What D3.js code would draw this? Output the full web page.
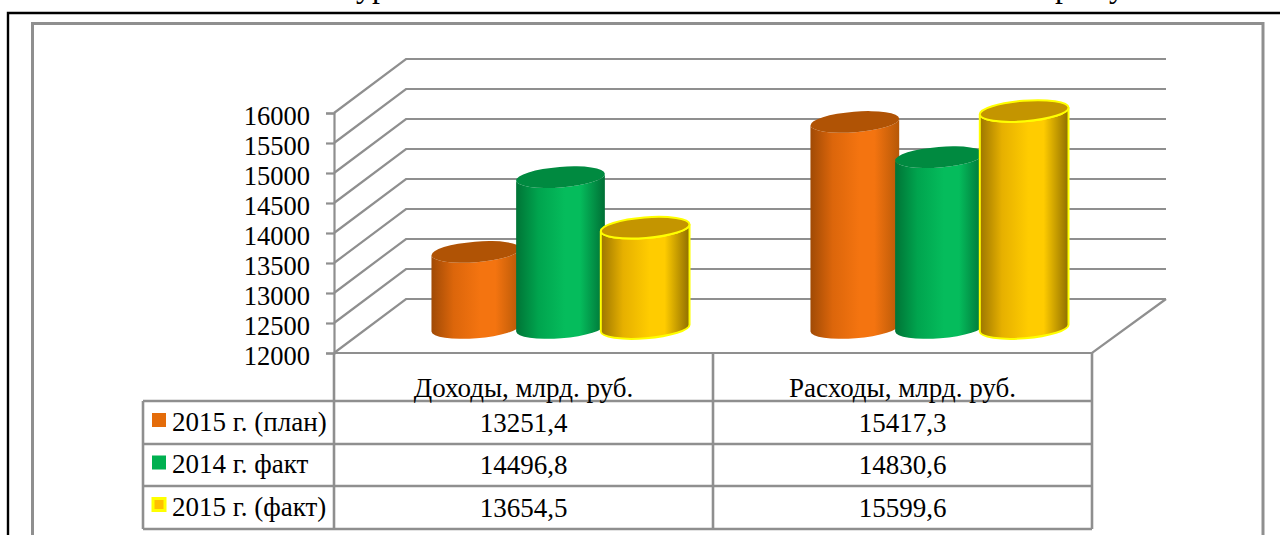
<!DOCTYPE html>
<html>
<head>
<meta charset="utf-8">
<script src="https://cdn.jsdelivr.net/npm/d3@7"></script>
<style>
  html, body { margin: 0; padding: 0; background: #fff; overflow: hidden; }
  text { font-family: "Liberation Serif", serif; fill: #000; }
</style>
</head>
<body>
<svg id="svg" width="1280" height="535"></svg>
<script>
const categories = ["Доходы, млрд. руб.", "Расходы, млрд. руб."];
const seriesNames = ["2015 г. (план)", "2014 г. факт", "2015 г. (факт)"];
const plan2015 = [13251.4, 15417.3];
const fact2014 = [14496.8, 14830.6];
const fact2015 = [13654.5, 15599.6];
const tableLabels = [
  ["13251,4", "15417,3"],
  ["14496,8", "14830,6"],
  ["13654,5", "15599,6"]
];
const tickValues = [12000, 12500, 13000, 13500, 14000, 14500, 15000, 15500, 16000];

const seriesValues = [plan2015, fact2014, fact2015];
const sideColors = [
  ["#a04a05", "#dc660b", "#f47410", "#b65807"],
  ["#007436", "#00a44e", "#05bc5c", "#006f35"],
  ["#9c7600", "#e6b000", "#ffcc00", "#8f6e00"]
];
const topColors = ["#b05305", "#008a40", "#c49500"];
const keyColors = ["#e46c0a", "#00b050", "#ffc000"];

const grey = "#8f8f8f";
const left = 334, right = 1092, floorY = 353;
const depthX = 74, depthY = 54;
const rx = 44.5, ry = 10.3, tilt = -4.5;

const svg = d3.select("#svg");

const x = d3.scaleBand().domain(d3.range(categories.length)).range([left, right]);
const y = d3.scaleLinear().domain([12000, 16000]).range([floorY, 113]);
const xSeries = d3.scaleBand().domain(d3.range(seriesNames.length)).range([-127, 127]);

// рамки
svg.append("path")
  .attr("d", "M8,535V13H1280")
  .attr("fill", "none").attr("stroke", "#000").attr("stroke-width", 2.4);
svg.append("path")
  .attr("d", "M32.5,535V23.5H1263V535")
  .attr("fill", "none").attr("stroke", grey).attr("stroke-width", 3);

// обрезанная строка заголовка над рамкой
svg.append("text").attr("x", 356).attr("y", -3).style("font-size", "32px").text("ур");
svg.append("text").attr("x", 1055).attr("y", -3).style("font-size", "32px").text("р");
svg.append("text").attr("x", 1109).attr("y", -3).style("font-size", "32px").text("у");

const defs = svg.append("defs");
sideColors.forEach((c, i) => {
  const g = defs.append("linearGradient").attr("id", "side" + i);
  g.append("stop").attr("offset", "0%").attr("stop-color", c[0]);
  g.append("stop").attr("offset", "25%").attr("stop-color", c[1]);
  g.append("stop").attr("offset", "55%").attr("stop-color", c[2]);
  g.append("stop").attr("offset", "72%").attr("stop-color", c[2]);
  g.append("stop").attr("offset", "100%").attr("stop-color", c[3]);
});

// сетка: задняя стенка и боковая
const walls = svg.append("g").attr("fill", "none").attr("stroke", grey).attr("stroke-width", 2.2);
walls.selectAll("path.grid").data(tickValues).enter().append("path")
  .attr("class", "grid")
  .attr("d", d => `M${left},${y(d)}L${left + depthX - 2},${y(d) - depthY}H${left + depthX + 758}`);
walls.append("path")
  .attr("d", `M${left},${floorY}H${right}L${left + depthX + 758},${floorY - depthY}`);

// ось Y
const yAxis = d3.axisLeft(y).tickValues(tickValues).tickSize(8).tickPadding(16).tickFormat(d3.format("d"));
const axisG = svg.append("g").attr("transform", `translate(${left},0)`).call(yAxis);
axisG.selectAll("path, line").attr("stroke", grey).attr("stroke-width", 2.2);
axisG.selectAll("text").style("font-size", "26.5px").style("font-family", '"Liberation Serif", serif')
  .attr("fill", "#000").attr("dy", "0.42em");

// цилиндры
const dxTop = rx * Math.cos(tilt * Math.PI / 180);
const dyTop = rx * Math.sin(tilt * Math.PI / 180);
const baseY = floorY - 25;

seriesNames.forEach((name, s) => {
  categories.forEach((c, i) => {
    const cx = x(i) + x.bandwidth() / 2 + depthX / 2 + xSeries(s) + xSeries.bandwidth() / 2;
    const topY = y(seriesValues[s][i]) - 26;
    const stroke = s === 2 ? "#ffff00" : "none";
    svg.append("path")
      .attr("d", `M${cx - dxTop},${topY - dyTop}L${cx - dxTop},${baseY - dyTop}` +
        `A${rx},${ry} ${tilt} 0 0 ${cx + dxTop},${baseY + dyTop}` +
        `L${cx + dxTop},${topY + dyTop}A${rx},${ry} ${tilt} 0 1 ${cx - dxTop},${topY - dyTop}Z`)
      .attr("fill", `url(#side${s})`)
      .attr("stroke", stroke).attr("stroke-width", 2);
    svg.append("ellipse")
      .attr("cx", cx).attr("cy", topY)
      .attr("rx", rx).attr("ry", ry)
      .attr("transform", `rotate(${tilt},${cx},${topY})`)
      .attr("fill", topColors[s])
      .attr("stroke", stroke).attr("stroke-width", 2);
  });
});

// таблица данных
const rowY = [401, 444, 486, 529];
const colX = [143, left, left + x.bandwidth(), right];
const table = svg.append("g").attr("stroke", grey).attr("stroke-width", 2.6).attr("fill", "none");
rowY.forEach(ry0 => table.append("line").attr("x1", colX[0]).attr("x2", right).attr("y1", ry0).attr("y2", ry0));
table.append("line").attr("x1", colX[0]).attr("x2", colX[0]).attr("y1", rowY[0]).attr("y2", rowY[3]);
colX.slice(1).forEach(cx => table.append("line").attr("x1", cx).attr("x2", cx).attr("y1", floorY).attr("y2", rowY[3]));

categories.forEach((c, i) => {
  svg.append("text")
    .attr("x", x(i) + x.bandwidth() / 2).attr("y", 397)
    .attr("text-anchor", "middle").style("font-size", "27px")
    .text(c);
});

seriesNames.forEach((name, s) => {
  const rowMid = (rowY[s] + rowY[s + 1]) / 2;
  const isBordered = s === 2;
  svg.append("rect")
    .attr("x", isBordered ? 153 : 152).attr("y", rowMid - (isBordered ? 9 : 9.5))
    .attr("width", isBordered ? 12 : 14).attr("height", isBordered ? 12 : 14)
    .attr("fill", keyColors[s])
    .attr("stroke", isBordered ? "#ffff00" : "none").attr("stroke-width", 3);
  svg.append("text")
    .attr("x", 172).attr("y", rowMid + 8)
    .style("font-size", "27px")
    .text(name);
  categories.forEach((c, i) => {
    svg.append("text")
      .attr("x", x(i) + x.bandwidth() / 2).attr("y", rowMid + 9)
      .attr("text-anchor", "middle").style("font-size", "27px")
      .text(tableLabels[s][i]);
  });
});
</script>
</body>
</html>
